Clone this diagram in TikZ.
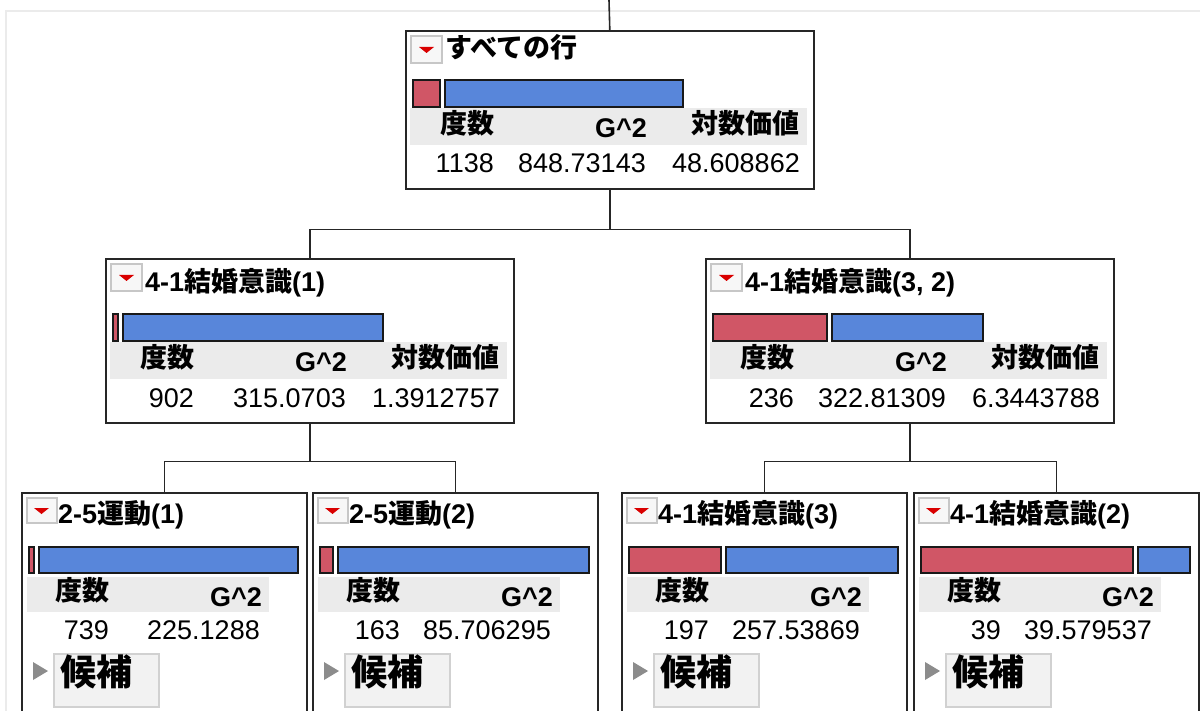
\documentclass[tikz,border=0pt]{standalone}
\usepackage{fontspec}
\setmainfont{Liberation Sans}
\newfontfamily\jp{Noto Sans CJK JP}
\definecolor{barred}{RGB}{208,86,102}
\definecolor{barblue}{RGB}{88,134,218}
\tikzset{
  box/.style={draw=black!85, line width=1.6pt, inner sep=0pt, anchor=north west},
  link/.style={line width=1.6pt, black!85},
  btn/.style={draw=black!22, line width=1.2pt, fill=black!3},
  tri/.style={fill=red!85!black},
  bar/.style={draw=black!90, line width=1.3pt},
  band/.style={fill=black!8},
  ttl/.style={font=\bfseries\fontsize{27}{30}\selectfont, inner sep=0pt, anchor=base west},
  hdr/.style={font=\bfseries\fontsize{27}{30}\selectfont, inner sep=0pt, anchor=base east},
  val/.style={font=\fontsize{27}{30}\selectfont, inner sep=0pt, anchor=base east},
  cand/.style={draw=black!18, line width=1.2pt, fill=black!5},
}

\begin{document}
\begin{tikzpicture}[x=1pt, y=-1pt]
\useasboundingbox (0,0) rectangle (1200,711);
% frame of the report window
\draw[black!8, line width=2pt] (6,711) -- (6,11) -- (1200,11);

% splits with three columns
\foreach \nm/\px/\py/\dy/\ttl/\re/\n/\g/\lw in {
    rows/405/30/0/{\jp すべての行}/35/1138/848.73143/48.608862,
    k1/105/258/6/{4-1{\jp 結婚意識}(1)}/13/902/315.0703/1.3912757,
    k32/705/258/6/{4-1{\jp 結婚意識}(3, 2)}/122/236/322.81309/6.3443788}{
  \node[box, minimum width=408pt, minimum height={(158+\dy)*1pt}] (\nm) at (\px,\py) {};
  \begin{scope}[shift={(\px,\py)}]
    \draw[btn] (6,6) rectangle (37,33);
    \fill[tri] (14,17) -- (29,17) -- (21.5,23) -- cycle;
    \node[ttl] at (40,28+\dy) {\ttl};
    \draw[bar, fill=barred] (8,50+\dy) rectangle (\re,77+\dy);
    \draw[bar, fill=barblue] (\re+5,50+\dy) rectangle (278,77+\dy);
    \fill[band] (5,78+\dy) rectangle (402,115+\dy);
    \node[hdr] at (90,104+\dy) {\jp 度数};
    \node[hdr] at (242,108+\dy) {G\textasciicircum 2};
    \node[hdr] at (395,104+\dy) {\jp 対数価値};
    \node[val] at (89,143+\dy) {\n};
    \node[val] at (241,143+\dy) {\g};
    \node[val] at (395,143+\dy) {\lw};
  \end{scope}
}

% leaves
\foreach \nm/\px/\ttl/\re/\n/\g in {
    u1/21/{2-5{\jp 運動}(1)}/13/739/225.1288,
    u2/312/{2-5{\jp 運動}(2)}/21/163/85.706295,
    k3/621/{4-1{\jp 結婚意識}(3)}/100/197/257.53869,
    k2/913/{4-1{\jp 結婚意識}(2)}/220/39/39.579537}{
  \node[box, minimum width=285pt, minimum height=240pt] (\nm) at (\px,492) {};
  \begin{scope}[shift={(\px,492)}]
    \draw[btn] (6,6) rectangle (36,31);
    \fill[tri] (13,16) -- (28,16) -- (20.5,22) -- cycle;
    \node[ttl] at (37,31) {\ttl};
    \draw[bar, fill=barred] (8,55) rectangle (\re,81);
    \draw[bar, fill=barblue] (\re+5,55) rectangle (277,81);
    \fill[band] (6,85) rectangle (248,120);
    \node[hdr] at (89,108) {\jp 度数};
    \node[hdr] at (241,114) {G\textasciicircum 2};
    \node[val] at (88,147) {\n};
    \node[val] at (239,147) {\g};
    \fill[black!45] (12,170) -- (27,179) -- (12,188) -- cycle;
    \draw[cand] (33,162) rectangle (138,215);
    \node[font=\bfseries\fontsize{36}{40}\selectfont, inner sep=0pt, anchor=base west] at (39,193) {\jp 候補};
  \end{scope}
}

% connectors
\coordinate (stem) at (609,0);
\draw[link] (stem) -- (rows.north);
\draw[link] (rows.south) -- ++(0,40) -| (k1.north);
\draw[link] (rows.south) -- ++(0,40) -| (k32.north);
\draw[link] (k1.south) -- ++(0,38) -| (u1.north);
\draw[link] (k1.south) -- ++(0,38) -| (u2.north);
\draw[link] (k32.south) -- ++(0,38) -| (k3.north);
\draw[link] (k32.south) -- ++(0,38) -| (k2.north);
\end{tikzpicture}
\end{document}
